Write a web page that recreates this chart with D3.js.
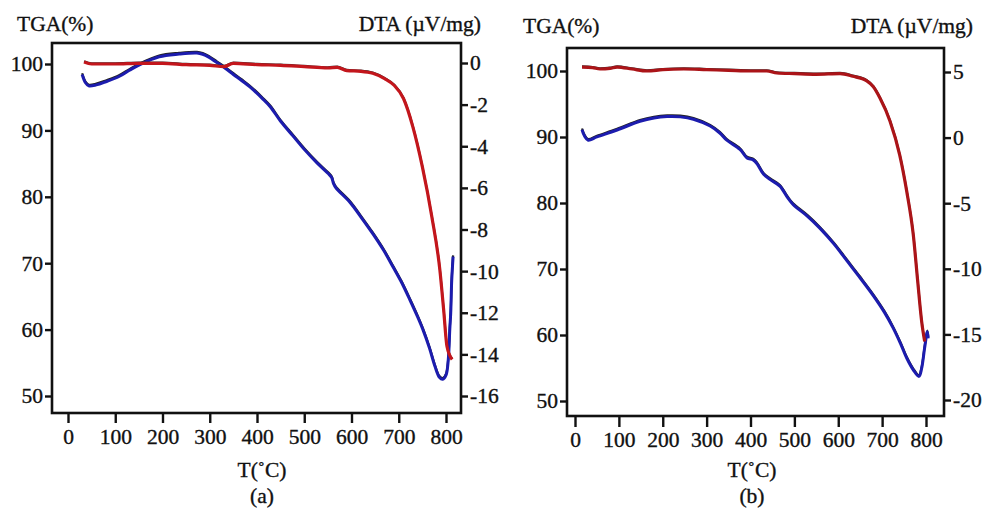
<!DOCTYPE html>
<html>
<head>
<meta charset="utf-8">
<script src="https://cdn.jsdelivr.net/npm/d3@7"></script>
<style>
  body { margin: 0; background: #fff; }
</style>
</head>
<body>
<div id="chart"></div>
<script>
const FONT = "'Liberation Serif', 'DejaVu Serif', 'Times New Roman', Times, serif"

// temperature ticks and axis ticks
const xTicks = [0, 100, 200, 300, 400, 500, 600, 700, 800]
const tgaTicks = [50, 60, 70, 80, 90, 100]
const dtaTicksA = [0, -2, -4, -6, -8, -10, -12, -14, -16]
const dtaTicksB = [5, 0, -5, -10, -15, -20]

// panel (a) - TGA (red)
const tempA_tga = [34, 50, 100, 150, 200, 250, 300, 330, 350, 400, 450, 500, 550, 570, 590, 620, 645, 670, 690, 710, 730, 750, 770, 787, 795, 802, 813]
const tgaA = [100.3, 100.0, 100.0, 100.1, 100.1, 99.9, 99.8, 99.6, 100.1, 99.9, 99.8, 99.6, 99.4, 99.5, 99.0, 98.9, 98.6, 97.8, 96.8, 94.8, 90.5, 84.5, 77, 69, 63, 57.5, 55.5]
// panel (a) - DTA (blue)
const tempA_dta = [30, 37, 44, 60, 80, 108, 130, 150, 193, 235, 273, 285, 298, 315, 332, 350, 368, 385, 411, 428, 450, 476, 500, 527, 550, 558, 562, 567, 597, 620, 645, 668, 688, 705, 724, 740, 751, 765, 777, 786, 793, 800, 805, 808, 810, 812, 815]
const dtaA = [-0.55, -0.95, -1.1, -1.05, -0.9, -0.65, -0.35, -0.1, 0.3, 0.43, 0.48, 0.42, 0.28, 0.02, -0.24, -0.55, -0.85, -1.15, -1.7, -2.1, -2.8, -3.5, -4.15, -4.8, -5.3, -5.5, -5.8, -6.0, -6.7, -7.4, -8.2, -9.0, -9.8, -10.5, -11.4, -12.2, -12.8, -13.7, -14.6, -15.1, -15.2, -15.0, -14.2, -12.8, -12.0, -10.5, -9.3]

// panel (b) - TGA (red)
const tempB_tga = [16, 40, 57, 80, 96, 130, 164, 200, 248, 300, 350, 400, 437, 460, 500, 550, 604, 633, 665, 680, 695, 718, 740, 756, 771, 781, 790, 797]
const tgaB = [100.6, 100.5, 100.3, 100.4, 100.6, 100.3, 100.0, 100.2, 100.3, 100.2, 100.1, 100.0, 100.0, 99.7, 99.6, 99.5, 99.6, 99.2, 98.5, 97.6, 95.9, 92.4, 87.3, 81.8, 75.2, 68.2, 62.1, 59]
// panel (b) - DTA (blue)
const tempB_dta = [16, 22, 30, 50, 96, 148, 180, 210, 240, 270, 308, 330, 346, 376, 392, 406, 415, 430, 445, 467, 485, 497, 530, 558, 590, 620, 650, 679, 705, 725, 742, 756, 771, 784, 790, 797, 803, 805]
const dtaB = [0.6, 0.1, -0.2, 0.05, 0.58, 1.25, 1.5, 1.6, 1.58, 1.4, 0.88, 0.35, -0.2, -0.9, -1.55, -1.7, -2.0, -2.8, -3.2, -3.7, -4.6, -5.1, -6.0, -6.9, -8.1, -9.4, -10.7, -12.0, -13.3, -14.5, -15.7, -16.8, -17.7, -18.2, -17.6, -16.0, -14.8, -15.3]

const svg = d3.select("#chart")
    .append("svg")
    .attr("width", 986)
    .attr("height", 510)

svg.append("rect").attr("width", 986).attr("height", 510).attr("fill", "#fff")

function drawPanel(p) {
    const g = svg.append("g")

    const x = d3.scaleLinear().domain([0, 800]).range([p.x0, p.x800])
    const yTga = d3.scaleLinear().domain([50, 100]).range([p.tga50, p.tga100])
    const yDta = d3.scaleLinear().domain(p.dtaDomain).range(p.dtaRange)

    // frame
    g.append("rect")
        .attr("x", p.left)
        .attr("y", p.top)
        .attr("width", p.right - p.left)
        .attr("height", p.bottom - p.top)
        .attr("fill", "none")
        .attr("stroke", "#111")
        .attr("stroke-width", 2.6)

    g.append("g")
        .attr("transform", `translate(${p.left},0)`)
        .call(d3.axisLeft(yTga).tickValues(tgaTicks).tickSize(7).tickPadding(2))
        .call(a => a.select(".domain").remove())

    g.append("g")
        .attr("transform", `translate(${p.right},0)`)
        .call(d3.axisRight(yDta).tickValues(p.dtaTicks).tickSize(7).tickPadding(2).tickFormat(d => String(d)))
        .call(a => a.select(".domain").remove())

    g.append("g")
        .attr("transform", `translate(0,${p.bottom})`)
        .call(d3.axisBottom(x).tickValues(xTicks).tickSize(p.xTickLen).tickPadding(p.xPad))
        .call(a => a.select(".domain").remove())

    g.selectAll(".tick line").attr("stroke", "#111").attr("stroke-width", 2.4)
    g.selectAll(".tick text")
        .attr("fill", "#111")
        .attr("stroke", "#111")
        .attr("stroke-width", 0.35)
        .attr("font-family", FONT)
        .attr("font-size", 21.5)

    const lineTga = d3.line().x(d => x(d[0])).y(d => yTga(d[1])).curve(d3.curveMonotoneX)
    const lineDta = d3.line().x(d => x(d[0])).y(d => yDta(d[1])).curve(d3.curveCatmullRom)

    const tga = d3.zip(p.tT, p.tga)
    const dta = d3.zip(p.tD, p.dta)

    // dark edge under the curves
    g.append("path").datum(dta)
        .attr("fill", "none").attr("stroke", "#222").attr("stroke-width", 2.2)
        .attr("transform", "translate(0,-1.2)")
        .attr("d", lineDta)
    g.append("path").datum(dta)
        .attr("fill", "none").attr("stroke", p.blue).attr("stroke-width", 3)
        .attr("stroke-linejoin", "round")
        .attr("d", lineDta)

    g.append("path").datum(tga)
        .attr("fill", "none").attr("stroke", "#333").attr("stroke-width", 2)
        .attr("transform", "translate(0,-0.8)")
        .attr("d", lineTga)
    g.append("path").datum(tga)
        .attr("fill", "none").attr("stroke", p.red).attr("stroke-width", 3.2)
        .attr("stroke-linejoin", "round")
        .attr("d", lineTga)

    const label = (tx, ty, anchor, s) => g.append("text")
        .attr("x", tx).attr("y", ty)
        .attr("text-anchor", anchor)
        .attr("font-family", FONT)
        .attr("font-size", 21.5)
        .attr("fill", "#111")
        .attr("stroke", "#111")
        .attr("stroke-width", 0.35)
        .text(s)

    label(p.tgaLabelX, p.labelY, "start", "TGA(%)")
    label(p.dtaLabelX, p.labelY, "end", "DTA (µV/mg)")
    label(p.titleX, p.titleY, "middle", "T(˚C)")
    label(p.titleX, p.titleY + 26, "middle", p.tag)
}

drawPanel({
    left: 52, right: 461, top: 43, bottom: 413,
    x0: 68, x800: 446, tga50: 396, tga100: 64,
    dtaDomain: [-16, 0], dtaRange: [396, 63], dtaTicks: dtaTicksA,
    xTickLen: 10, xPad: 6,
    tT: tempA_tga, tga: tgaA, tD: tempA_dta, dta: dtaA,
    red: "#c3161c", blue: "#1c1cae",
    tgaLabelX: 17, dtaLabelX: 481, labelY: 31,
    titleX: 262, titleY: 477, tag: "(a)"
})

drawPanel({
    left: 567, right: 944, top: 48, bottom: 416,
    x0: 575, x800: 926, tga50: 401, tga100: 71,
    dtaDomain: [-20, 5], dtaRange: [400, 72], dtaTicks: dtaTicksB,
    xTickLen: 11, xPad: 5,
    tT: tempB_tga, tga: tgaB, tD: tempB_dta, dta: dtaB,
    red: "#ab1418", blue: "#1c1cae",
    tgaLabelX: 523, dtaLabelX: 973, labelY: 33,
    titleX: 752, titleY: 477, tag: "(b)"
})
</script>
</body>
</html>
